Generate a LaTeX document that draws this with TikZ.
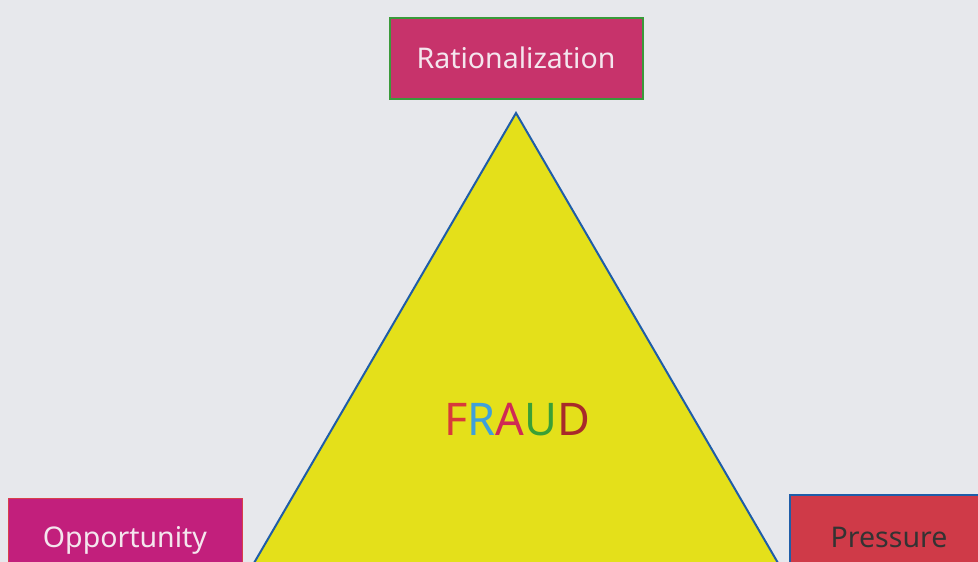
\documentclass[tikz,border=0pt]{standalone}
\usepackage{fontspec}
\setmainfont{Noto Sans}
\definecolor{paper}{HTML}{E7E8EC}
\definecolor{rosebox}{HTML}{C7336B}
\definecolor{magbox}{HTML}{C21F7C}
\definecolor{redbox}{HTML}{CF3A48}
\definecolor{edgegreen}{HTML}{3A9A3A}
\definecolor{edgeblue}{HTML}{1F5DA8}
\definecolor{edgered}{HTML}{D8404A}
\definecolor{tri}{HTML}{E4E01A}
\definecolor{lightpink}{HTML}{F4E6EE}
\tikzstyle{factor}=[rectangle, line width=2pt, inner sep=0pt, font=\fontsize{28.5}{31}\selectfont]

\begin{document}
\begin{tikzpicture}[x=1pt, y=-1pt]
% Page
    \useasboundingbox (0,0) rectangle (978,562);
    \clip (0,0) rectangle (978,562);
    \fill[paper] (0,0) rectangle (978,562);
% Triangle
    \draw[fill=tri, draw=edgeblue, line width=2pt] (516,113) -- (785,575) -- (247,575) -- cycle;
    \node (fraud) at (517,420) {\fontsize{45}{48}\selectfont
        \textcolor[HTML]{D83A3A}{F}\textcolor[HTML]{3FA0DA}{R}\textcolor[HTML]{D02A55}{A}\textcolor[HTML]{3AA035}{U}\textcolor[HTML]{A82A2A}{D}};
% Corners
    \node[factor, fill=rosebox, draw=edgegreen, text=lightpink, minimum width=253, minimum height=81] (rational) at (516,58) {Rationalization};
    \node[factor, fill=magbox, draw=edgered, line width=1pt, text=lightpink, minimum width=234, minimum height=84] (opportunity) at (125,540) {Opportunity};
    \node[factor, fill=redbox, draw=edgeblue, text=black!80, minimum width=198, minimum height=84, text depth=0pt] (pressure) at (889,537) {Pressure};
\end{tikzpicture}
\end{document}
